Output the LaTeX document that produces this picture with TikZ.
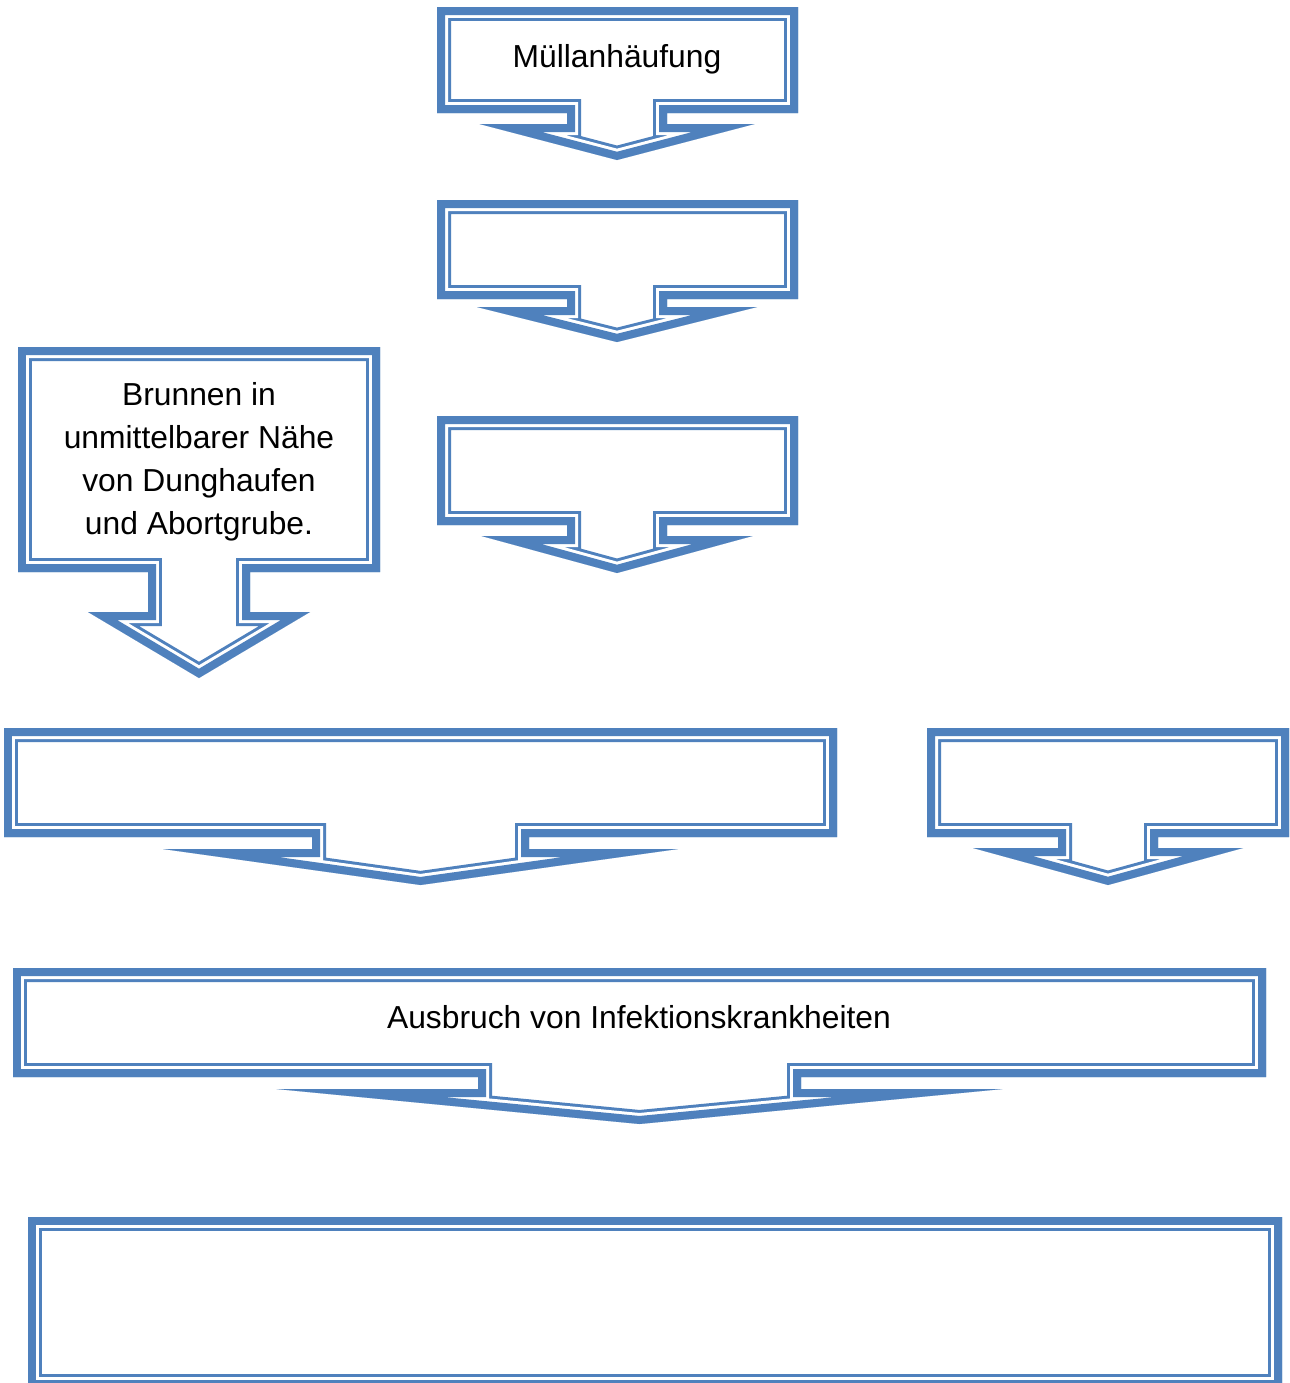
\documentclass[tikz,border=0pt]{standalone}
\usepackage{fontspec}
\setmainfont{Liberation Sans}
\definecolor{calloutblue}{HTML}{4F81BD}

% down arrow callout: left, right, top, bottom, centre x,
% shaft half width, wing half width, wing y, tip y
\newcommand{\downcallout}[9]{%
  \def\callp{(#1,#3) -- (#2,#3) -- (#2,#4) -- ({#5+#6},#4) -- ({#5+#6},#8)
    -- ({#5+#7},#8) -- (#5,#9) -- ({#5-#7},#8) -- ({#5-#6},#8)
    -- ({#5-#6},#4) -- (#1,#4) -- cycle}%
  \begin{scope}
    \clip \callp;
    \draw [thickpart] \callp;
    \draw [gappart] \callp;
    \draw [innerpart] \callp;
  \end{scope}}

\begin{document}
\begin{tikzpicture}[x=0.02cm,y=-0.02cm]
  \tikzset{
    thickpart/.style={calloutblue,line width=0.56cm,line join=miter},
    gappart/.style={white,line width=0.44cm,line join=miter},
    innerpart/.style={calloutblue,line width=0.32cm,line join=miter},
    every node/.style={inner sep=0pt,font=\fontsize{18.1}{24.3}\selectfont}
  }
  \fill [white] (0,0) rectangle (1290,1383);
  \useasboundingbox (0,0) rectangle (1290,1383);
  \downcallout{437}{798}{7}{113}{617}{50}{137.5}{124}{160}
  \downcallout{437}{798}{200}{299}{617}{50}{140}{307}{342}
  \downcallout{437}{798}{416}{525}{617}{50}{135.5}{536}{573}
  \downcallout{18}{380}{347}{572}{199}{51}{111}{612}{678}
  \downcallout{4}{837}{728}{837}{420.5}{108.5}{257.5}{849}{885}
  \downcallout{927}{1289}{728}{837}{1108}{50}{135}{848}{885}
  \downcallout{13}{1266}{968}{1077}{639.5}{161.5}{363}{1089}{1124}
  \begin{scope}
    \clip (28,1217) rectangle (1282,1388);
    \draw [thickpart] (28,1217) rectangle (1282,1388);
    \draw [gappart] (28,1217) rectangle (1282,1388);
    \draw [innerpart] (28,1217) rectangle (1282,1388);
  \end{scope}
  \node (muell) [anchor=base] at (617,67) {Müllanhäufung};
  \node (brunnen) [anchor=base,align=center] at (199,534)
    {Brunnen in\\unmittelbarer Nähe\\von Dunghaufen\\und Abortgrube.};
  \node (ausbruch) [anchor=base] at (639,1028) {Ausbruch von Infektionskrankheiten};
\end{tikzpicture}
\end{document}
